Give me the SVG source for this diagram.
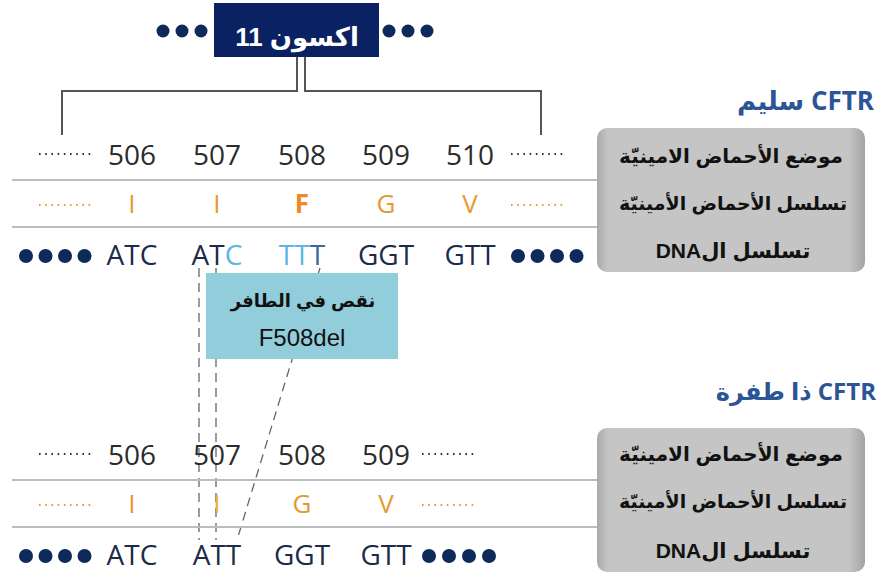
<svg xmlns="http://www.w3.org/2000/svg" width="880" height="576" viewBox="0 0 880 576">
<defs>
<linearGradient id="pg" x1="0" y1="0" x2="1" y2="0">
<stop offset="0" stop-color="#a9a9a9"/><stop offset="0.04" stop-color="#c5c5c5"/><stop offset="0.94" stop-color="#c5c5c5"/><stop offset="1" stop-color="#a2a2a2"/>
</linearGradient>
<style>
.num{font-family:"Open Sans","Noto Sans",sans-serif;font-size:28px;fill:#2b2b2b;text-anchor:middle}
.aa{font-family:"Open Sans","Noto Sans",sans-serif;font-size:26px;fill:#e59a30;text-anchor:middle}
.dna{font-family:"Open Sans","Noto Sans",sans-serif;font-size:28px;fill:#1c2b49;text-anchor:middle}
.lbl{font-family:"Liberation Sans","DejaVu Sans",sans-serif;font-size:20px;font-weight:bold;fill:#111;text-anchor:middle}
.ttl{font-family:"Open Sans","DejaVu Sans",sans-serif;font-size:26px;font-weight:bold;fill:#2b5595;text-anchor:start}
.dot{fill:#0e2a5a}
.dots{stroke:#333;stroke-width:2;stroke-dasharray:1.6 4.6;fill:none}
.odots{stroke:#e0a030;stroke-width:2;stroke-dasharray:1.6 4.6;fill:none}
.rule{stroke:#bdbdbd;stroke-width:2;fill:none}
.brk{stroke:#555;stroke-width:2;fill:none}
.dash{stroke:#666;stroke-width:1.3;stroke-dasharray:9 6;fill:none}
</style>
</defs>
<rect width="880" height="576" fill="#ffffff"/>

<g id="connectors">
<path class="brk" d="M297 57 V91 H62 V135"/>
<path class="brk" d="M305 57 V91 H541 V135"/>
<line class="dash" x1="199" y1="268" x2="199" y2="540"/>
<line class="dash" x1="216" y1="268" x2="216" y2="540"/>
<line class="dash" x1="320" y1="268" x2="237" y2="540"/>
</g>

<g id="exon11">
<circle class="dot" cx="163" cy="31" r="6.5"/><circle class="dot" cx="182" cy="31" r="6.5"/><circle class="dot" cx="201" cy="31" r="6.5"/>
<circle class="dot" cx="389" cy="31" r="6.5"/><circle class="dot" cx="408" cy="31" r="6.5"/><circle class="dot" cx="427" cy="31" r="6.5"/>
<rect x="214" y="3" width="165" height="54" fill="#0b2262"/>
<text x="297" y="46" direction="rtl" font-family="Liberation Sans, DejaVu Sans, sans-serif" font-size="26" font-weight="bold" fill="#ffffff" text-anchor="middle">اكسون 11</text>
</g>

<g id="normal-title"><text class="ttl" x="874" y="110" direction="rtl">CFTR سليم</text></g>

<g id="normal-rows">
<line class="rule" x1="12" y1="180" x2="598" y2="180"/>
<line class="rule" x1="12" y1="227" x2="598" y2="227"/>
<line class="dots" x1="39" y1="154" x2="92" y2="154"/>
<line class="dots" x1="511" y1="154" x2="564" y2="154"/>
<text class="num" x="132" y="165">506</text>
<text class="num" x="217" y="165">507</text>
<text class="num" x="302" y="165">508</text>
<text class="num" x="386" y="165">509</text>
<text class="num" x="470" y="165">510</text>
<line class="odots" x1="39" y1="205" x2="92" y2="205"/>
<line class="odots" x1="511" y1="205" x2="564" y2="205"/>
<text class="aa" x="132" y="213">I</text>
<text class="aa" x="217" y="213">I</text>
<text class="aa" x="302" y="213" style="font-weight:bold;fill:#ef8a20">F</text>
<text class="aa" x="386" y="213">G</text>
<text class="aa" x="470" y="213">V</text>
<circle class="dot" cx="26" cy="256" r="7"/><circle class="dot" cx="45.5" cy="256" r="7"/><circle class="dot" cx="65" cy="256" r="7"/><circle class="dot" cx="84.5" cy="256" r="7"/>
<circle class="dot" cx="518" cy="256" r="7"/><circle class="dot" cx="537.5" cy="256" r="7"/><circle class="dot" cx="557" cy="256" r="7"/><circle class="dot" cx="576.5" cy="256" r="7"/>
<text class="dna" x="132" y="265">ATC</text>
<text class="dna" x="217" y="265">AT<tspan style="fill:#5db6e6">C</tspan></text>
<text class="dna" x="302" y="265"><tspan style="fill:#5db6e6">TT</tspan><tspan style="fill:#3d6a93">T</tspan></text>
<text class="dna" x="386" y="265">GGT</text>
<text class="dna" x="470" y="265">GTT</text>
</g>

<g id="normal-panel">
<rect x="597" y="128" width="268" height="144" rx="10" fill="url(#pg)"/>
<text class="lbl" x="731" y="163" direction="rtl">موضع الأحماض الامينيّة</text>
<text class="lbl" x="733" y="210" direction="rtl" style="font-size:19px">تسلسل الأحماض الأمينيّة</text>
<text class="lbl" x="733" y="258" direction="rtl" style="font-size:21px">تسلسل الDNA</text>
</g>

<g id="deletion-box">
<rect x="206" y="273" width="192" height="86" fill="#92cddc"/>
<text x="303" y="307" direction="rtl" font-family="Liberation Sans, DejaVu Sans, sans-serif" font-size="18" font-weight="bold" fill="#111" text-anchor="middle">نقص في الطافر</text>
<text x="302" y="346" font-family="Liberation Sans, Arial, sans-serif" font-size="24" fill="#111" text-anchor="middle">F508del</text>
</g>

<g id="mutant-title"><text class="ttl" x="876" y="400" direction="rtl" style="font-size:24px">CFTR ذا طفرة</text></g>

<g id="mutant-rows">
<line class="rule" x1="12" y1="480" x2="598" y2="480"/>
<line class="rule" x1="12" y1="527" x2="598" y2="527"/>
<line class="dots" x1="39" y1="454" x2="92" y2="454"/>
<line class="dots" x1="422" y1="454" x2="475" y2="454"/>
<text class="num" x="132" y="465">506</text>
<text class="num" x="217" y="465">507</text>
<text class="num" x="302" y="465">508</text>
<text class="num" x="386" y="465">509</text>
<line class="odots" x1="39" y1="505" x2="92" y2="505"/>
<line class="odots" x1="422" y1="505" x2="475" y2="505"/>
<text class="aa" x="132" y="513">I</text>
<text class="aa" x="217" y="513" style="fill:#e8b030">I</text>
<text class="aa" x="302" y="513">G</text>
<text class="aa" x="386" y="513">V</text>
<circle class="dot" cx="26" cy="556" r="7"/><circle class="dot" cx="45.5" cy="556" r="7"/><circle class="dot" cx="65" cy="556" r="7"/><circle class="dot" cx="84.5" cy="556" r="7"/>
<circle class="dot" cx="429" cy="556" r="7"/><circle class="dot" cx="449" cy="556" r="7"/><circle class="dot" cx="469" cy="556" r="7"/><circle class="dot" cx="489" cy="556" r="7"/>
<text class="dna" x="132" y="565">ATC</text>
<text class="dna" x="217" y="565">ATT</text>
<text class="dna" x="302" y="565">GGT</text>
<text class="dna" x="386" y="565">GTT</text>
</g>

<g id="mutant-panel">
<rect x="597" y="428" width="268" height="144" rx="10" fill="url(#pg)"/>
<text class="lbl" x="731" y="461" direction="rtl">موضع الأحماض الامينيّة</text>
<text class="lbl" x="733" y="508" direction="rtl" style="font-size:19px">تسلسل الأحماض الأمينيّة</text>
<text class="lbl" x="733" y="558" direction="rtl" style="font-size:21px">تسلسل الDNA</text>
</g>
</svg>
